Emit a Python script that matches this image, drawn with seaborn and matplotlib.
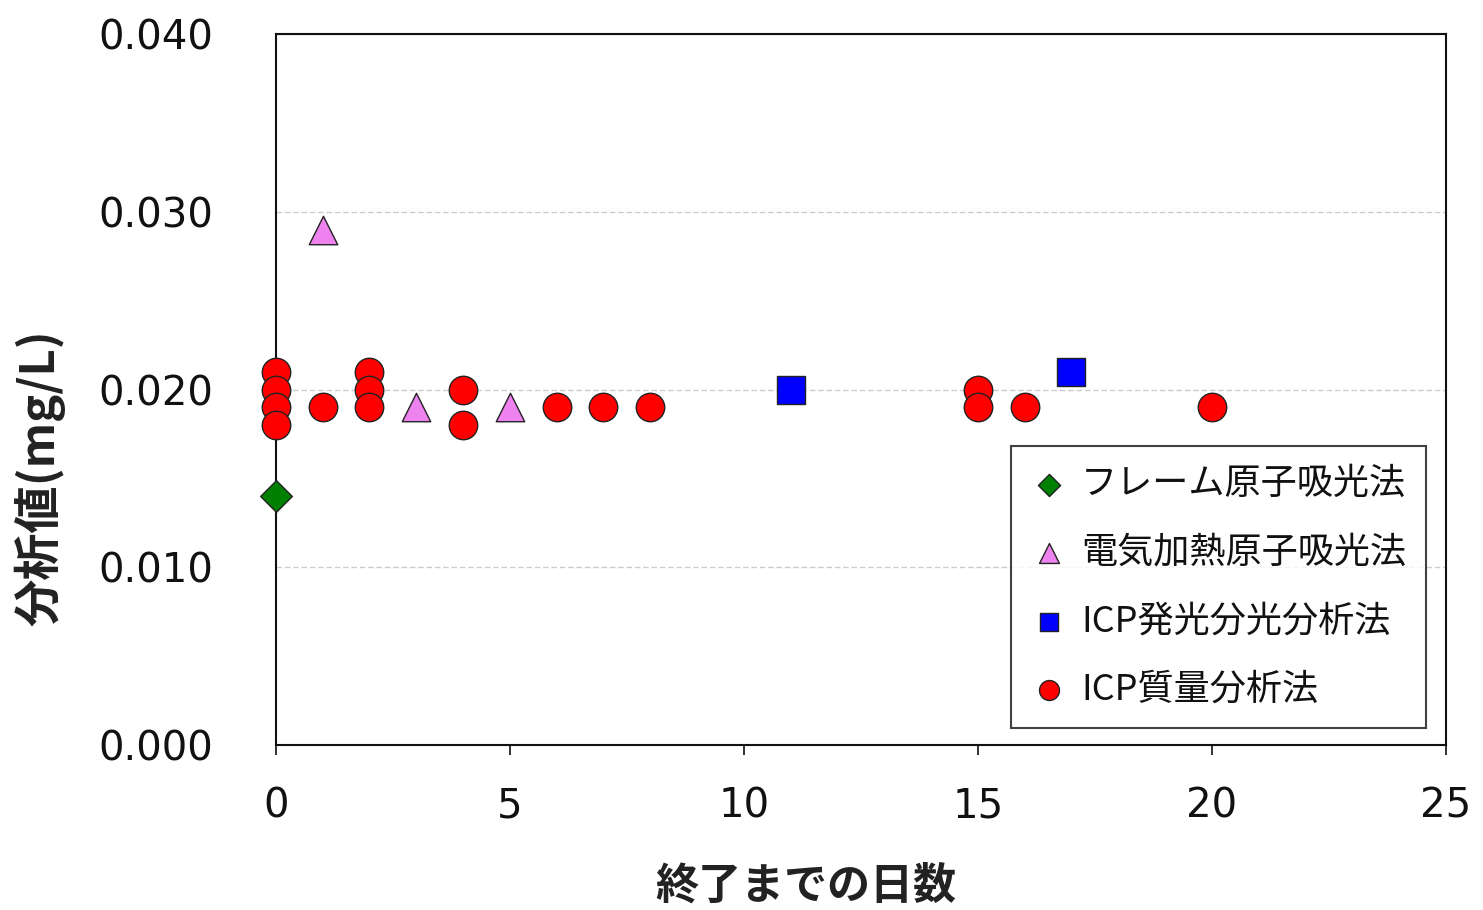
import matplotlib
matplotlib.use("Agg")
import matplotlib.pyplot as plt
import seaborn as sns
import pandas as pd

# Data
flame_days = [0]
flame_vals = [0.014]
furnace_days = [1, 3, 5]
furnace_vals = [0.029, 0.019, 0.019]
icpoes_days = [11, 17]
icpoes_vals = [0.020, 0.021]
icpms_days = [0, 0, 0, 0, 1, 2, 2, 2, 4, 4, 6, 7, 8, 15, 15, 16, 20]
icpms_vals = [0.021, 0.020, 0.019, 0.018, 0.019, 0.021, 0.020, 0.019, 0.020, 0.018,
              0.019, 0.019, 0.019, 0.020, 0.019, 0.019, 0.019]

labels = ["フレーム原子吸光法", "電気加熱原子吸光法", "ICP発光分光分析法", "ICP質量分析法"]
x_ticks = [0, 5, 10, 15, 20, 25]
y_ticks = [0.000, 0.010, 0.020, 0.030, 0.040]
y_ticklabels = ["0.000", "0.010", "0.020", "0.030", "0.040"]
x_label = "終了までの日数"
y_label = "分析値(mg/L)"

sns.set_theme(style="white")
plt.rcParams['font.family'] = ['DejaVu Sans', 'Noto Sans CJK JP']

fig = plt.figure(figsize=(14.83, 9.10), dpi=100)
ax = fig.add_axes([0.186, 0.181, 0.789, 0.7816])

ax.yaxis.grid(True, linestyle=(0, (4, 2)), color="#cccccc", linewidth=1)
ax.set_axisbelow(True)

series = [
    (flame_days, flame_vals, labels[0], "D", "#008000", 260),
    (furnace_days, furnace_vals, labels[1], "^", "#ee82ee", 420),
    (icpoes_days, icpoes_vals, labels[2], "s", "#0000ff", 380),
    (icpms_days, icpms_vals, labels[3], "o", "#ff0000", 420),
]
for d, v, lab, m, c, s in series:
    df = pd.DataFrame({"day": d, "val": v})
    sns.scatterplot(data=df, x="day", y="val", marker=m, color=c, s=s,
                    edgecolor="#222222", linewidth=1.0, label=lab, ax=ax, zorder=3,
                    clip_on=False)

ax.set_xlim(0, 25)
ax.set_ylim(0, 0.040)
ax.set_xticks(x_ticks)
ax.set_yticks(y_ticks)
ax.set_yticklabels(y_ticklabels)
ax.tick_params(axis="x", labelsize=29, length=7, width=1.2, direction="out",
               bottom=True, pad=23, colors="#111111")
ax.tick_params(axis="y", labelsize=29, length=0, pad=45, colors="#111111")
for sp in ax.spines.values():
    sp.set_color("#111111")
    sp.set_linewidth(1.5)

ax.set_xlabel(x_label, fontsize=31, fontweight="bold",
              family=['Noto Sans CJK JP'], color="#222222")
ax.set_ylabel(y_label, fontsize=34, fontweight="bold",
              family=['Noto Sans CJK JP'], color="#222222")
ax.xaxis.set_label_coords(0.453, -0.197)
ax.yaxis.set_label_coords(-0.2017, 0.376)
ax.xaxis.label.set_verticalalignment("center")
ax.yaxis.label.set_verticalalignment("center")

leg = ax.legend(loc="lower right", bbox_to_anchor=(0.983, 0.025), borderaxespad=0,
                markerscale=0.7, frameon=True, fancybox=False, edgecolor="#111111",
                handletextpad=0.4, labelspacing=0.9, borderpad=0.55, handlelength=1.0,
                prop={'family': ['Noto Sans CJK JP'], 'size': 26})
leg.get_frame().set_linewidth(1.5)
for t in leg.get_texts():
    t.set_color("#111111")

fig.savefig("out.png", dpi=100, facecolor="white")
